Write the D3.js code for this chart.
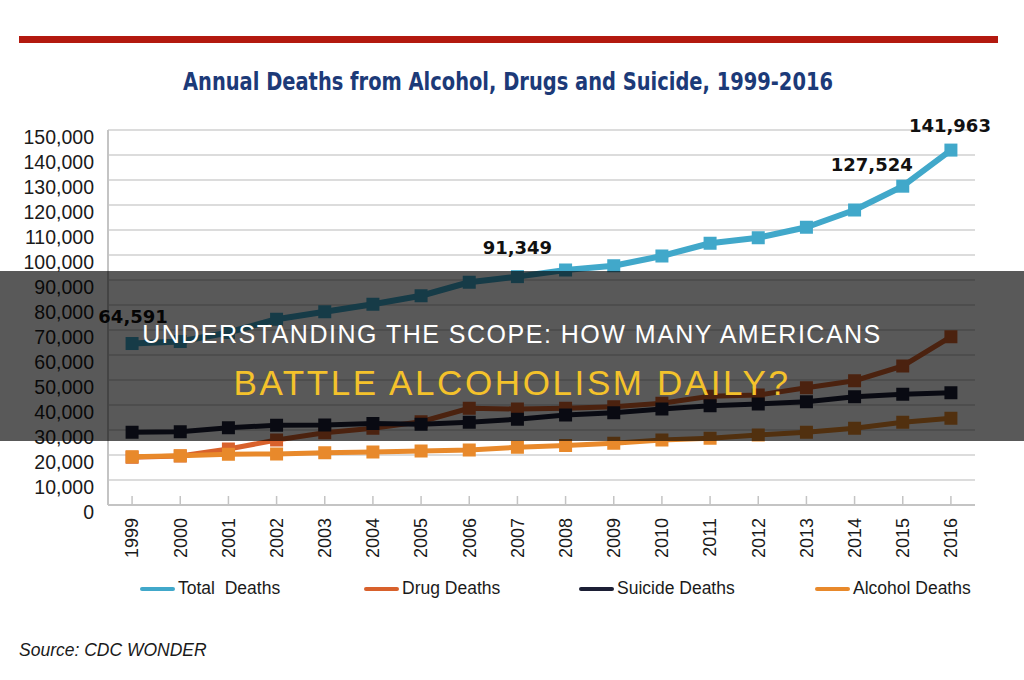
<!DOCTYPE html>
<html>
<head>
<meta charset="utf-8">
<script src="https://cdn.jsdelivr.net/npm/d3@7"></script>
<style>
  html, body { margin: 0; padding: 0; background: #ffffff; }
  svg { display: block; }
</style>
</head>
<body>
<svg id="chart" width="1024" height="680"></svg>
<script>
// ---------------- DATA ----------------
const years = ["1999","2000","2001","2002","2003","2004","2005","2006","2007","2008","2009","2010","2011","2012","2013","2014","2015","2016"];
const totalDeaths   = [64591, 65400, 69000, 74300, 77300, 80300, 83700, 89100, 91349, 94000, 95700, 99600, 104700, 106900, 111100, 118000, 127524, 141963];
const drugDeaths    = [19100, 19600, 22400, 26000, 28900, 30700, 33300, 38700, 38400, 38700, 39300, 40700, 43500, 44000, 46900, 49700, 55600, 67300];
const suicideDeaths = [29100, 29300, 30900, 31900, 32000, 32600, 32300, 33100, 34300, 36000, 36900, 38400, 39700, 40400, 41300, 43300, 44300, 44900];
const alcoholDeaths = [19300, 19700, 20300, 20400, 20900, 21200, 21600, 22000, 23100, 23800, 24700, 26000, 26700, 28000, 29100, 30700, 33100, 34700];
const seriesNames   = ["Total  Deaths", "Drug Deaths", "Suicide Deaths", "Alcohol Deaths"];
const yTicks        = [0,10000,20000,30000,40000,50000,60000,70000,80000,90000,100000,110000,120000,130000,140000,150000];
const labelledYears = ["1999","2007","2015","2016"];

const chartTitle = "Annual Deaths from Alcohol, Drugs and Suicide, 1999-2016";
const sourceText = "Source: CDC WONDER";
const overlayLine1 = "UNDERSTANDING THE SCOPE: HOW MANY AMERICANS";
const overlayLine2 = "BATTLE ALCOHOLISM DAILY?";

// ---------------- SETUP ----------------
const svg = d3.select("#chart");
const colors = ["#41a8ca", "#d8612c", "#1c1f35", "#e8892b"];
const allSeries = [totalDeaths, drugDeaths, suicideDeaths, alcoholDeaths];

const plot = { left: 108, right: 975, top: 130, bottom: 505 };
const x = d3.scaleBand().domain(years).range([plot.left, plot.right]).padding(0);
const cx = d => x(d) + x.bandwidth() / 2;
const y = d3.scaleLinear().domain([0, 150000]).range([plot.bottom, plot.top]);

// Red bar at top
svg.append("rect").attr("x", 19).attr("y", 36).attr("width", 979).attr("height", 7).attr("fill", "#b3190f");

// Title
svg.append("text")
  .attr("x", 183).attr("y", 90)
  .attr("textLength", 650).attr("lengthAdjust", "spacingAndGlyphs")
  .style("font-family", "'Liberation Sans Narrow', 'DejaVu Sans Condensed', 'Liberation Sans', sans-serif")
  .style("font-weight", "bold").style("font-size", "24px")
  .attr("fill", "#1c3a78")
  .text(chartTitle);

// Gridlines + y labels
const yAxis = d3.axisLeft(y).tickValues(yTicks).tickSize(0).tickFormat(d3.format(","));
const gy = svg.append("g").attr("transform", `translate(${plot.left},0)`).call(yAxis);
gy.select(".domain").remove();
gy.selectAll(".tick text")
  .attr("x", -14).attr("dy", "0.35em").attr("y", 6.5)
  .style("font-family", "'Liberation Sans', Arial, sans-serif")
  .style("font-size", "19.5px").attr("fill", "#1a1a1a");

const grid = svg.append("g");
grid.selectAll("line").data(yTicks.filter(d => d > 0)).join("line")
  .attr("x1", plot.left).attr("x2", plot.right)
  .attr("y1", d => y(d)).attr("y2", d => y(d))
  .attr("stroke", "#d0d0d0").attr("stroke-width", 1.5);

// Axes lines
svg.append("line").attr("x1", plot.left).attr("x2", plot.left).attr("y1", plot.top).attr("y2", plot.bottom)
  .attr("stroke", "#c4c4c4").attr("stroke-width", 2);
svg.append("line").attr("x1", plot.left).attr("x2", plot.right).attr("y1", plot.bottom).attr("y2", plot.bottom)
  .attr("stroke", "#c4c4c4").attr("stroke-width", 2);

// X axis ticks and labels
const xAxis = d3.axisBottom(x).tickSize(-9).tickSizeOuter(0);
const gx = svg.append("g").attr("transform", `translate(0,${plot.bottom})`).call(xAxis);
gx.select(".domain").remove();
gx.selectAll(".tick line").attr("stroke", "#c4c4c4").attr("stroke-width", 1.5);
gx.selectAll(".tick text")
  .attr("transform", "translate(0,13) rotate(-90)")
  .attr("x", 0).attr("y", 0).attr("dy", "0.35em")
  .attr("text-anchor", "end")
  .style("font-family", "'Liberation Sans', Arial, sans-serif")
  .style("font-size", "18px").attr("fill", "#1a1a1a");

// Lines and markers
const line = d3.line().x((d, i) => cx(years[i])).y(d => y(d));
allSeries.forEach((vals, si) => {
  const g = svg.append("g");
  g.append("path").datum(vals).attr("d", line)
    .attr("fill", "none").attr("stroke", colors[si])
    .attr("stroke-width", si === 0 ? 6 : 5).attr("stroke-linejoin", "round");
  g.selectAll("rect").data(vals).join("rect")
    .attr("x", (d, i) => cx(years[i]) - 6.5).attr("y", d => y(d) - 6.5)
    .attr("width", 13).attr("height", 13).attr("fill", colors[si]);
});

// Data labels on total series
const labelOffsets = { "1999": [1, -21], "2007": [0, -23], "2015": [-31, -15], "2016": [-1, -18] };
svg.append("g").selectAll("text").data(labelledYears).join("text")
  .attr("x", d => cx(d) + labelOffsets[d][0])
  .attr("y", d => y(totalDeaths[years.indexOf(d)]) + labelOffsets[d][1])
  .attr("text-anchor", "middle")
  .style("font-family", "'DejaVu Sans', sans-serif")
  .style("font-weight", "bold").style("font-size", "18px")
  .attr("fill", "#111")
  .text(d => d3.format(",")(totalDeaths[years.indexOf(d)]));

// Legend
const legendX = [142, 366, 581, 817];
const lg = svg.append("g");
seriesNames.forEach((name, i) => {
  lg.append("line").attr("x1", legendX[i]).attr("x2", legendX[i] + 31)
    .attr("y1", 589).attr("y2", 589)
    .attr("stroke", colors[i]).attr("stroke-width", 4).attr("stroke-linecap", "round");
  lg.append("text").attr("x", legendX[i] + 36).attr("y", 594)
    .style("font-family", "'Liberation Sans', Arial, sans-serif")
    .style("font-size", "17.5px").style("white-space", "pre")
    .attr("fill", "#1a1a1a").text(name);
});

// Source
svg.append("text").attr("x", 19).attr("y", 656)
  .style("font-family", "'Liberation Sans', Arial, sans-serif")
  .style("font-size", "17.5px").style("font-style", "italic")
  .attr("fill", "#1a1a1a").text(sourceText);

// Overlay band
svg.append("rect").attr("x", 0).attr("y", 271).attr("width", 1024).attr("height", 170)
  .attr("fill", "rgba(0,0,0,0.65)");
svg.append("text").attr("x", 512).attr("y", 343).attr("text-anchor", "middle")
  .style("font-family", "'Liberation Sans', Arial, sans-serif")
  .style("font-size", "25px").style("letter-spacing", "1.5px")
  .attr("fill", "#ffffff").text(overlayLine1);
svg.append("text").attr("x", 512).attr("y", 395).attr("text-anchor", "middle")
  .style("font-family", "'Liberation Sans', Arial, sans-serif")
  .style("font-size", "35px").style("letter-spacing", "2.6px")
  .attr("fill", "#f4c22b").text(overlayLine2);
</script>
</body>
</html>
